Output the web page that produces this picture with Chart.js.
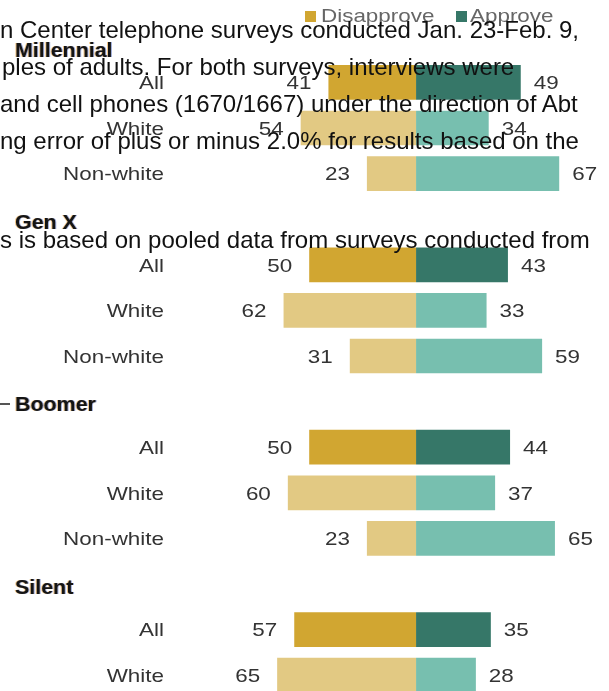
<!DOCTYPE html>
<html>
<head>
<meta charset="utf-8">
<title>Approve / Disapprove by generation</title>
<script src="https://cdn.jsdelivr.net/npm/chart.js@4/dist/chart.umd.min.js"></script>
<style>
  html, body { margin: 0; padding: 0; background: #fff; overflow: hidden; }
  #wrap { position: relative; width: 609px; height: 698px; }
  .note {
    position: absolute; left: 0;
    font: 24px "Liberation Sans", Arial, sans-serif;
    line-height: 24px; color: #111; white-space: nowrap;
  }
  .rule { position: absolute; left: 0; top: 403px; width: 10px; height: 2px; background: #555; }
</style>
</head>
<body>
<div id="wrap">
  <canvas id="chart"></canvas>
  <div class="note" style="top:18px">n Center telephone surveys conducted Jan. 23-Feb. 9,</div>
  <div class="note" style="top:55px; left:2px">ples of adults. For both surveys, interviews were</div>
  <div class="note" style="top:92px">and cell phones (1670/1667) under the direction of Abt</div>
  <div class="note" style="top:129px">ng error of plus or minus 2.0% for results based on the</div>
  <div class="note" style="top:228px">s is based on pooled data from surveys conducted from</div>
  <div class="rule"></div>
</div>
<script>
// Rows, top to bottom; group headings get an empty row of their own
const categories = ['Millennial', 'All', 'White', 'Non-white',
                    'Gen X', 'All', 'White', 'Non-white',
                    'Boomer', 'All', 'White', 'Non-white',
                    'Silent', 'All', 'White'];
const headerRows = [0, 4, 8, 12];
const disapprove = [null, 41, 54, 23, null, 50, 62, 31, null, 50, 60, 23, null, 57, 65];
const approve    = [null, 49, 34, 67, null, 43, 33, 59, null, 44, 37, 65, null, 35, 28];

const COLORS = {
    disapproveAll: '#D1A631',
    disapprove: '#E2C983',
    approveAll: '#367768',
    approve: '#77BFAF'
};

// labels in the source are a touch wider than Arial, so stretch them sideways
const STRETCH = 1.18;
const HEAD_STRETCH = 1.07;
const LABEL_FONT = '19px "Liberation Sans", Arial, sans-serif';
const HEAD_FONT = 'bold 20px "Liberation Sans", Arial, sans-serif';

function drawText(ctx, text, x, y, align, font, color, sx) {
    ctx.save();
    ctx.font = font;
    const w = ctx.measureText(text).width * sx;
    const left = align === 'right' ? x - w : x;
    ctx.translate(left, y + 6.8); // y is the visual middle of the caps
    ctx.scale(sx, 1);
    ctx.textAlign = 'left';
    ctx.textBaseline = 'alphabetic';
    ctx.fillStyle = color;
    ctx.fillText(text, 0, 0);
    ctx.restore();
}

const labelPlugin = {
    id: 'rowLabels',
    afterDatasetsDraw(chart) {
        const ctx = chart.ctx;
        const xs = chart.scales.x;
        const ys = chart.scales.y;

        categories.forEach((name, i) => {
            const cy = ys.getPixelForValue(i);
            if (headerRows.includes(i)) {
                // first heading is pushed down to clear the legend
                const hy = cy + (i === 0 ? 13 : 3);
                // headings have a faint colour fringe on either side
                drawText(ctx, name, 14, hy, 'left', HEAD_FONT, 'rgba(230,150,40,0.55)', HEAD_STRETCH);
                drawText(ctx, name, 16, hy, 'left', HEAD_FONT, 'rgba(40,70,170,0.45)', HEAD_STRETCH);
                drawText(ctx, name, 15, hy, 'left', HEAD_FONT, '#141414', HEAD_STRETCH);
                return;
            }
            drawText(ctx, name, 164, cy, 'right', LABEL_FONT, '#333', STRETCH);
            drawText(ctx, String(disapprove[i]), xs.getPixelForValue(-disapprove[i]) - 17, cy,
                     'right', LABEL_FONT, '#333', STRETCH);
            drawText(ctx, String(approve[i]), xs.getPixelForValue(approve[i]) + 13, cy,
                     'left', LABEL_FONT, '#333', STRETCH);
        });

        // legend
        ctx.fillStyle = COLORS.disapproveAll;
        ctx.fillRect(305, 11, 11, 11);
        drawText(ctx, 'Disapprove', 321, 15, 'left', LABEL_FONT, '#666', STRETCH);
        ctx.fillStyle = COLORS.approveAll;
        ctx.fillRect(456, 11, 11, 11);
        drawText(ctx, 'Approve', 470, 15, 'left', LABEL_FONT, '#666', STRETCH);
    }
};

function rowColor(ctx, allColor, otherColor) {
    return categories[ctx.dataIndex] === 'All' ? allColor : otherColor;
}

new Chart(document.getElementById('chart'), {
    type: 'bar',
    data: {
        labels: categories,
        datasets: [{
            label: 'Disapprove',
            data: disapprove.map(v => v == null ? null : -v),
            backgroundColor: ctx => rowColor(ctx, COLORS.disapproveAll, COLORS.disapprove)
        }, {
            label: 'Approve',
            data: approve,
            backgroundColor: ctx => rowColor(ctx, COLORS.approveAll, COLORS.approve)
        }]
    },
    options: {
        indexAxis: 'y',
        responsive: true,
        maintainAspectRatio: false,
        animation: false,
        layout: { padding: { top: 14, bottom: 0, left: 0, right: 0 } },
        datasets: {
            bar: { categoryPercentage: 1, barPercentage: 0.76, borderWidth: 0 }
        },
        scales: {
            x: { stacked: true, min: -194.7, max: 90.3, display: false },
            y: { stacked: true, display: false }
        },
        plugins: {
            legend: { display: false },
            tooltip: { enabled: false }
        }
    },
    plugins: [labelPlugin]
});
</script>
</body>
</html>
